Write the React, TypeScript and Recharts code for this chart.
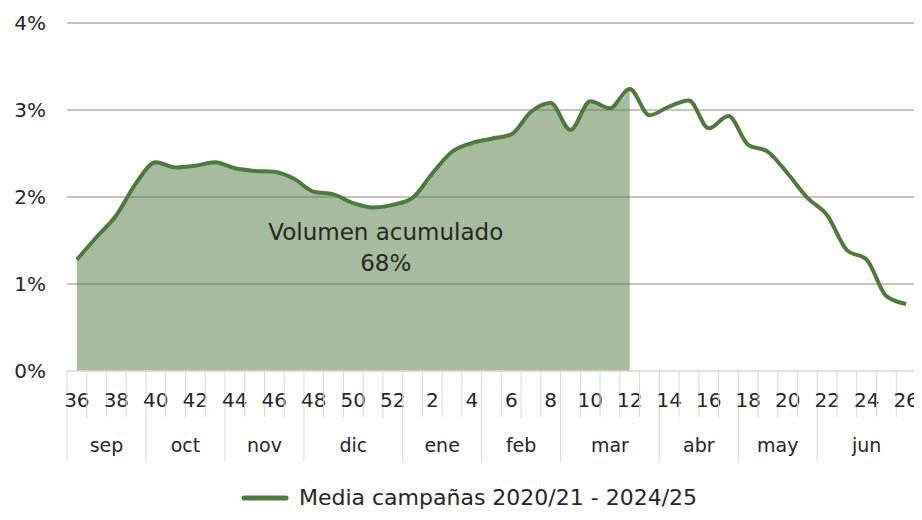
import React from 'react';
import { ComposedChart, Area, Line, XAxis, YAxis, CartesianGrid, Legend, ReferenceDot } from 'recharts';

const weeks = ['36','37','38','39','40','41','42','43','44','45','46','47','48','49','50','51','52','1','2','3','4','5','6','7','8','9','10','11','12','13','14','15','16','17','18','19','20','21','22','23','24','25','26'];
const mediaValues = [1.28,1.54,1.79,2.16,2.40,2.34,2.36,2.40,2.33,2.30,2.29,2.21,2.06,2.03,1.93,1.88,1.91,1.99,2.27,2.52,2.62,2.67,2.72,2.98,3.08,2.77,3.10,3.02,3.24,2.94,3.04,3.11,2.79,2.93,2.60,2.52,2.27,1.99,1.79,1.39,1.28,0.86,0.77];
const lastAccumulatedWeek = '12';
const months = ['sep','oct','nov','dic','ene','feb','mar','abr','may','jun'];
const monthStartWeeks = ['36','40','44','48','1','5','9','14','18','22'];
const monthLengths = [4,4,4,5,4,4,5,4,4,5];
const yTicks = [0,1,2,3,4];
const seriesName = 'Media campañas 2020/21 - 2024/25';
const annotationLines = ['Volumen acumulado', '68%'];

const CHART_W = 914;
const CHART_H = 512;
const MARGIN = { top: 15, right: 6, left: 0, bottom: 0 };
const Y_W = 59;
const PLOT_W = CHART_W - MARGIN.left - MARGIN.right - Y_W;
const BW = PLOT_W / weeks.length;
const FONT = '"DejaVu Sans", sans-serif';
const TEXT = '#262626';
const GREEN = '#4f7a3f';

const cutIdx = weeks.indexOf(lastAccumulatedWeek);
const data = weeks.map((w, i) => ({
  week: w,
  media: mediaValues[i],
  acum: i <= cutIdx ? mediaValues[i] : null,
}));

function WeekTick(props: any) {
  const { x, y, payload } = props;
  const i = weeks.indexOf(String(payload.value));
  const left = x - BW / 2;
  const mi = monthStartWeeks.indexOf(weeks[i]);
  return (
    <g>
      <line x1={left} x2={left} y1={y} y2={y + (mi >= 0 ? 91 : 46)} stroke="#d9d9d9" strokeWidth={1} />
      {i === weeks.length - 1 && (
        <line x1={x + BW / 2} x2={x + BW / 2} y1={y} y2={y + 91} stroke="#d9d9d9" strokeWidth={1} />
      )}
      {i % 2 === 0 && (
        <text x={x} y={y + 29} textAnchor="middle" dominantBaseline="central" fontSize={20} fill={TEXT} fontFamily={FONT}>
          {payload.value}
        </text>
      )}
      {mi >= 0 && (
        <text x={left + (monthLengths[mi] * BW) / 2} y={y + 74} textAnchor="middle" dominantBaseline="central" fontSize={19} fill={TEXT} fontFamily={FONT}>
          {months[mi]}
        </text>
      )}
    </g>
  );
}

function AnnotationLabel(props: any) {
  const { viewBox } = props;
  const cx = viewBox.x + (viewBox.width || 0) / 2;
  const cy = viewBox.y + (viewBox.height || 0) / 2;
  return (
    <g>
      <text x={cx - 7} y={cy - 15} textAnchor="middle" dominantBaseline="central" fontSize={23} fill={TEXT} fontFamily={FONT}>
        {annotationLines[0]}
      </text>
      <text x={cx - 7} y={cy + 16} textAnchor="middle" dominantBaseline="central" fontSize={23} fill={TEXT} fontFamily={FONT}>
        {annotationLines[1]}
      </text>
    </g>
  );
}

function LegendContent() {
  return (
    <div style={{ display: 'flex', justifyContent: 'center', alignItems: 'center', height: 45, fontFamily: FONT, fontSize: 22, color: TEXT, paddingLeft: 14 }}>
      <svg width={54} height={10} style={{ marginRight: 4 }}>
        <line x1={3} x2={45} y1={5} y2={5} stroke={GREEN} strokeWidth={5} strokeLinecap="round" />
      </svg>
      <span>{seriesName}</span>
    </div>
  );
}

export default function App() {
  return (
    <ComposedChart width={CHART_W} height={CHART_H} data={data} margin={MARGIN}>
      <CartesianGrid vertical={false} stroke="#b0b0b0" strokeWidth={1.5} horizontalValues={[1, 2, 3, 4]} />
      <XAxis
        dataKey="week"
        interval={0}
        height={104}
        tickSize={0}
        tickMargin={0}
        tickLine={false}
        padding={{ left: BW / 2, right: BW / 2 }}
        axisLine={{ stroke: '#d9d9d9', strokeWidth: 1.5 }}
        tick={<WeekTick />}
      />
      <YAxis
        width={Y_W}
        domain={[0, 4]}
        ticks={yTicks}
        axisLine={false}
        tickLine={false}
        tickSize={0}
        tickMargin={21}
        tickFormatter={(v: number) => `${v}%`}
        tick={{ fontSize: 20, fill: TEXT, fontFamily: FONT }}
      />
      <Area dataKey="acum" type="monotone" stroke="none" fill={GREEN} fillOpacity={0.5} isAnimationActive={false} legendType="none" connectNulls={false} />
      <Line dataKey="media" name={seriesName} type="monotone" stroke={GREEN} strokeWidth={4} dot={false} activeDot={false} isAnimationActive={false} />
      <ReferenceDot x="52" y={1.43} r={1} fill="none" stroke="none" label={<AnnotationLabel />} />
      <Legend verticalAlign="bottom" height={45} content={<LegendContent />} />
    </ComposedChart>
  );
}
